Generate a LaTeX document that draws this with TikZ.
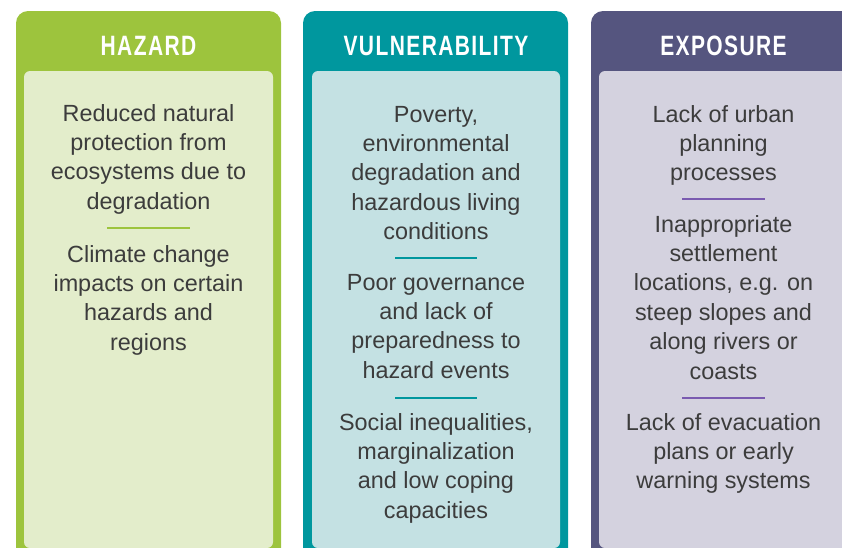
\documentclass[tikz,border=0pt]{standalone}
\usepackage{fontspec}
\setmainfont{Liberation Sans}
\newfontfamily\headfont{Liberation Sans}[FakeStretch=0.75,LetterSpace=5]
\definecolor{hzd}{HTML}{9DC43D}
\definecolor{hzdl}{HTML}{E3EDCB}
\definecolor{vul}{HTML}{00979E}
\definecolor{vull}{HTML}{C4E1E3}
\definecolor{exo}{HTML}{55557F}
\definecolor{exol}{HTML}{D4D2DF}
\definecolor{exosep}{HTML}{7A5BB0}
\definecolor{txt}{HTML}{3C3C3C}
\begin{document}
\begin{tikzpicture}[x=1pt,y=-1pt,
  outerbox/.style={rounded corners=12pt},
  innerbox/.style={rounded corners=6pt},
  head/.style={font=\headfont\bfseries\fontsize{28}{30}\selectfont, text=white, anchor=base, inner sep=0pt},
  body/.style={font=\fontsize{23.4}{29.4}\selectfont, text=txt, align=center, anchor=base, inner sep=0pt},
  sepline/.style={line width=2pt}]
\useasboundingbox (0,0) rectangle (842,547);
\clip (0,0) rectangle (842,547);
% Hazard column (text nodes placed at the baseline of their last line)
\fill[hzd, outerbox] (16,11) rectangle (281,560);
\fill[hzdl, innerbox] (24,71) rectangle (273,548);
\node[head] (hh) at (148.5,55) {HAZARD};
\node[body] (h1) at (148.5,209.2) {Reduced natural\\protection from\\ecosystems due to\\degradation};
\draw[sepline, hzd] (107,228) -- (190,228);
\node[body] (h2) at (148.5,350.2) {Climate change\\impacts on certain\\hazards and\\regions};
% Vulnerability column
\fill[vul, outerbox] (303,11) rectangle (568,560);
\fill[vull, innerbox] (312,71) rectangle (560,548);
\node[head] (vh) at (436,55) {VULNERABILITY};
\node[body] (v1) at (436,239.6) {Poverty,\\environmental\\degradation and\\hazardous living\\conditions};
\draw[sepline, vul] (395,258) -- (477,258);
\node[body] (v2) at (436,378.2) {Poor governance\\and lack of\\preparedness to\\hazard events};
\draw[sepline, vul] (395,398) -- (477,398);
\node[body] (v3) at (436,518.2) {Social inequalities,\\marginalization\\and low coping\\capacities};
% Exposure column
\fill[exo, outerbox] (591,11) rectangle (856,560);
\fill[exol, innerbox] (599,71) rectangle (848,548);
\node[head] (eh) at (723.5,55) {EXPOSURE};
\node[body] (e1) at (723.5,180.8) {Lack of urban\\planning\\processes};
\draw[sepline, exosep] (682,199) -- (765,199);
\node[body] (e2) at (723.5,379) {Inappropriate\\settlement\\locations, e.g. on\\steep slopes and\\along rivers or\\coasts};
\draw[sepline, exosep] (682,398) -- (765,398);
\node[body] (e3) at (723.5,488.8) {Lack of evacuation\\plans or early\\warning systems};
\end{tikzpicture}
\end{document}
